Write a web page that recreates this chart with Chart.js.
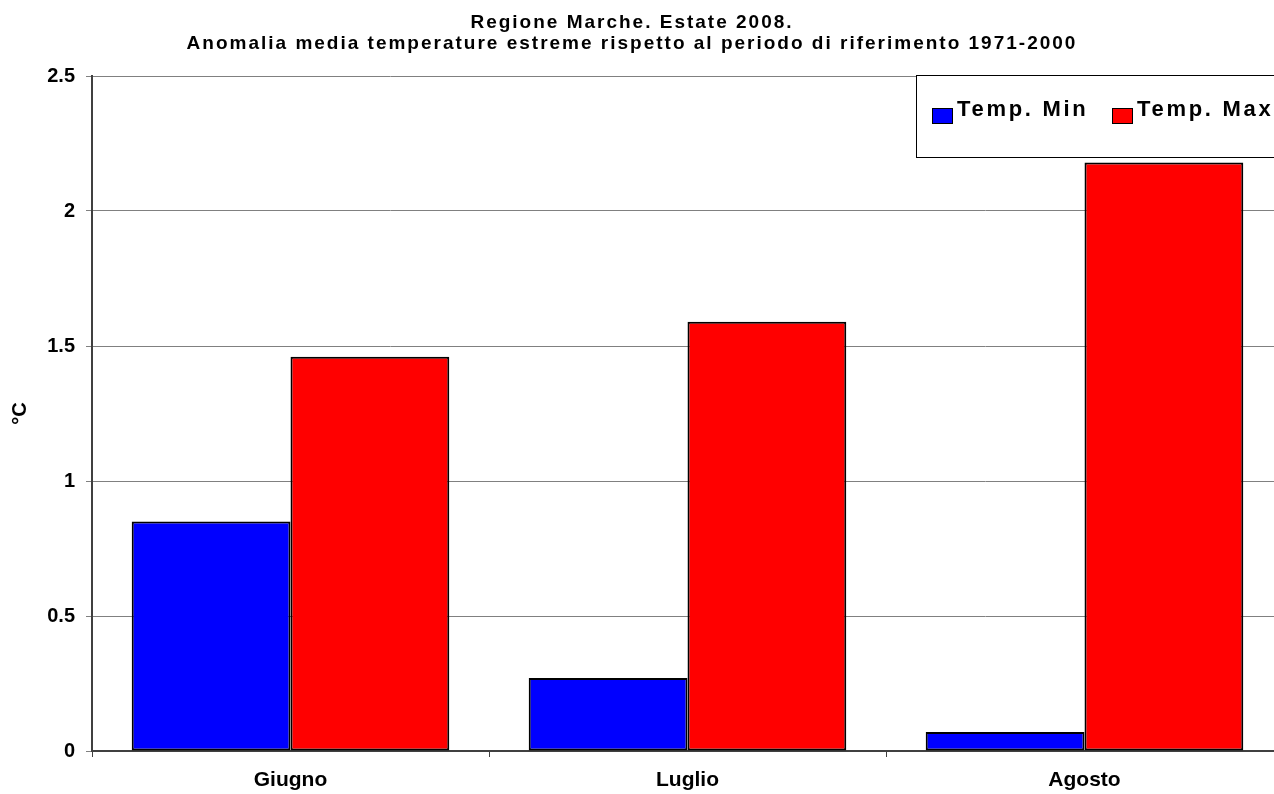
<!DOCTYPE html>
<html lang="it">
<head>
<meta charset="utf-8">
<title>Regione Marche. Estate 2008.</title>
<script src="https://cdn.jsdelivr.net/npm/chart.js@4/dist/chart.umd.min.js"></script>
<style>
  html, body { margin: 0; padding: 0; background: #ffffff; overflow: hidden; }
  #wrap { width: 1284px; height: 794px; }
  canvas { display: block; }
</style>
</head>
<body>
<div id="wrap"><canvas id="chart" width="1284" height="794"></canvas></div>
<script>
// Months of summer 2008
const months = ['Giugno', 'Luglio', 'Agosto'];

// Mean anomaly (°C) of extreme temperatures vs. the 1971-2000 reference period
const tempMin = [0.85, 0.27, 0.07];
const tempMax = [1.46, 1.59, 2.18];

// Series names
const seriesNames = ['Temp. Min', 'Temp. Max'];

// Value axis ticks and their labels
const yTicks = [0, 0.5, 1, 1.5, 2, 2.5];
const yTickLabels = ['0', '0.5', '1', '1.5', '2', '2.5'];

// Title lines
const titleLines = [
  'Regione Marche. Estate 2008.',
  'Anomalia media temperature estreme rispetto al periodo di riferimento 1971-2000'
];

const FONT = '"Liberation Sans", Arial, Helvetica, sans-serif';

// Two-line bold title with spaced lettering
const titlePlugin = {
  id: 'spacedTitle',
  afterDraw(chart) {
    const ctx = chart.ctx;
    ctx.save();
    ctx.fillStyle = '#000000';
    ctx.font = 'bold 19px ' + FONT;
    ctx.letterSpacing = '2px';
    ctx.textAlign = 'center';
    ctx.textBaseline = 'alphabetic';
    const cx = 632;
    ctx.fillText(titleLines[0], cx, 28);
    ctx.fillText(titleLines[1], cx, 49);
    ctx.restore();
  }
};

// Boxed legend in the top-right corner of the plot
const boxLegendPlugin = {
  id: 'boxLegend',
  afterDraw(chart) {
    const ctx = chart.ctx;
    const left = 916.5, top = 75.5, h = 82;
    ctx.save();
    ctx.fillStyle = '#ffffff';
    ctx.fillRect(left, top, chart.width - left + 10, h);
    ctx.strokeStyle = '#000000';
    ctx.lineWidth = 1;
    ctx.strokeRect(left, top, chart.width - left + 10, h);

    ctx.font = 'bold 22px ' + FONT;
    ctx.letterSpacing = '2.7px';
    ctx.textAlign = 'left';
    ctx.textBaseline = 'alphabetic';
    let x = 932;
    chart.data.datasets.forEach((ds) => {
      ctx.fillStyle = ds.backgroundColor;
      ctx.fillRect(x + 0.5, 108.5, 20, 15);
      ctx.strokeStyle = '#000000';
      ctx.lineWidth = 1;
      ctx.strokeRect(x + 0.5, 108.5, 20, 15);
      ctx.fillStyle = '#000000';
      ctx.fillText(ds.label, x + 25, 115.5);
      x += 180;
    });
    ctx.restore();
  }
};

new Chart(document.getElementById('chart'), {
  type: 'bar',
  data: {
    labels: months,
    datasets: [
      {
        label: seriesNames[0],
        data: tempMin,
        backgroundColor: '#0000ff',
        borderColor: '#000000',
        borderWidth: 2,
        borderSkipped: false
      },
      {
        label: seriesNames[1],
        data: tempMax,
        backgroundColor: '#ff0000',
        borderColor: '#000000',
        borderWidth: 2,
        borderSkipped: false
      }
    ]
  },
  options: {
    responsive: false,
    animation: false,
    devicePixelRatio: 1,
    layout: { padding: { top: 76, right: 1, left: 0, bottom: 0 } },
    datasets: { bar: { categoryPercentage: 0.8, barPercentage: 1.0 } },
    plugins: {
      legend: { display: false },
      title: { display: false },
      tooltip: { enabled: false }
    },
    scales: {
      x: {
        offset: true,
        grid: {
          display: true,
          offset: true,
          drawOnChartArea: false,
          drawTicks: true,
          tickLength: 6,
          color: '#404040',
          lineWidth: 1
        },
        border: { display: true, color: '#404040', width: 2 },
        ticks: {
          color: '#000000',
          padding: 11,
          font: { family: FONT, size: 21, weight: 'bold' }
        },
        afterFit(scale) { scale.height = 43; }
      },
      y: {
        min: 0,
        max: 2.5,
        afterBuildTicks(scale) { scale.ticks = yTicks.map(v => ({ value: v })); },
        grid: {
          color: '#808080',
          lineWidth: 1,
          drawTicks: true,
          tickLength: 6
        },
        border: { display: true, color: '#404040', width: 2 },
        ticks: {
          color: '#000000',
          padding: 11,
          font: { family: FONT, size: 20, weight: 'bold' },
          callback: (value, index) => yTickLabels[index]
        },
        title: {
          display: true,
          text: '°C',
          color: '#000000',
          padding: { top: 8, bottom: 0 },
          font: { family: FONT, size: 20, weight: 'bold' }
        },
        afterFit(scale) { scale.width = 92; }
      }
    }
  },
  plugins: [titlePlugin, boxLegendPlugin]
});
</script>
</body>
</html>
